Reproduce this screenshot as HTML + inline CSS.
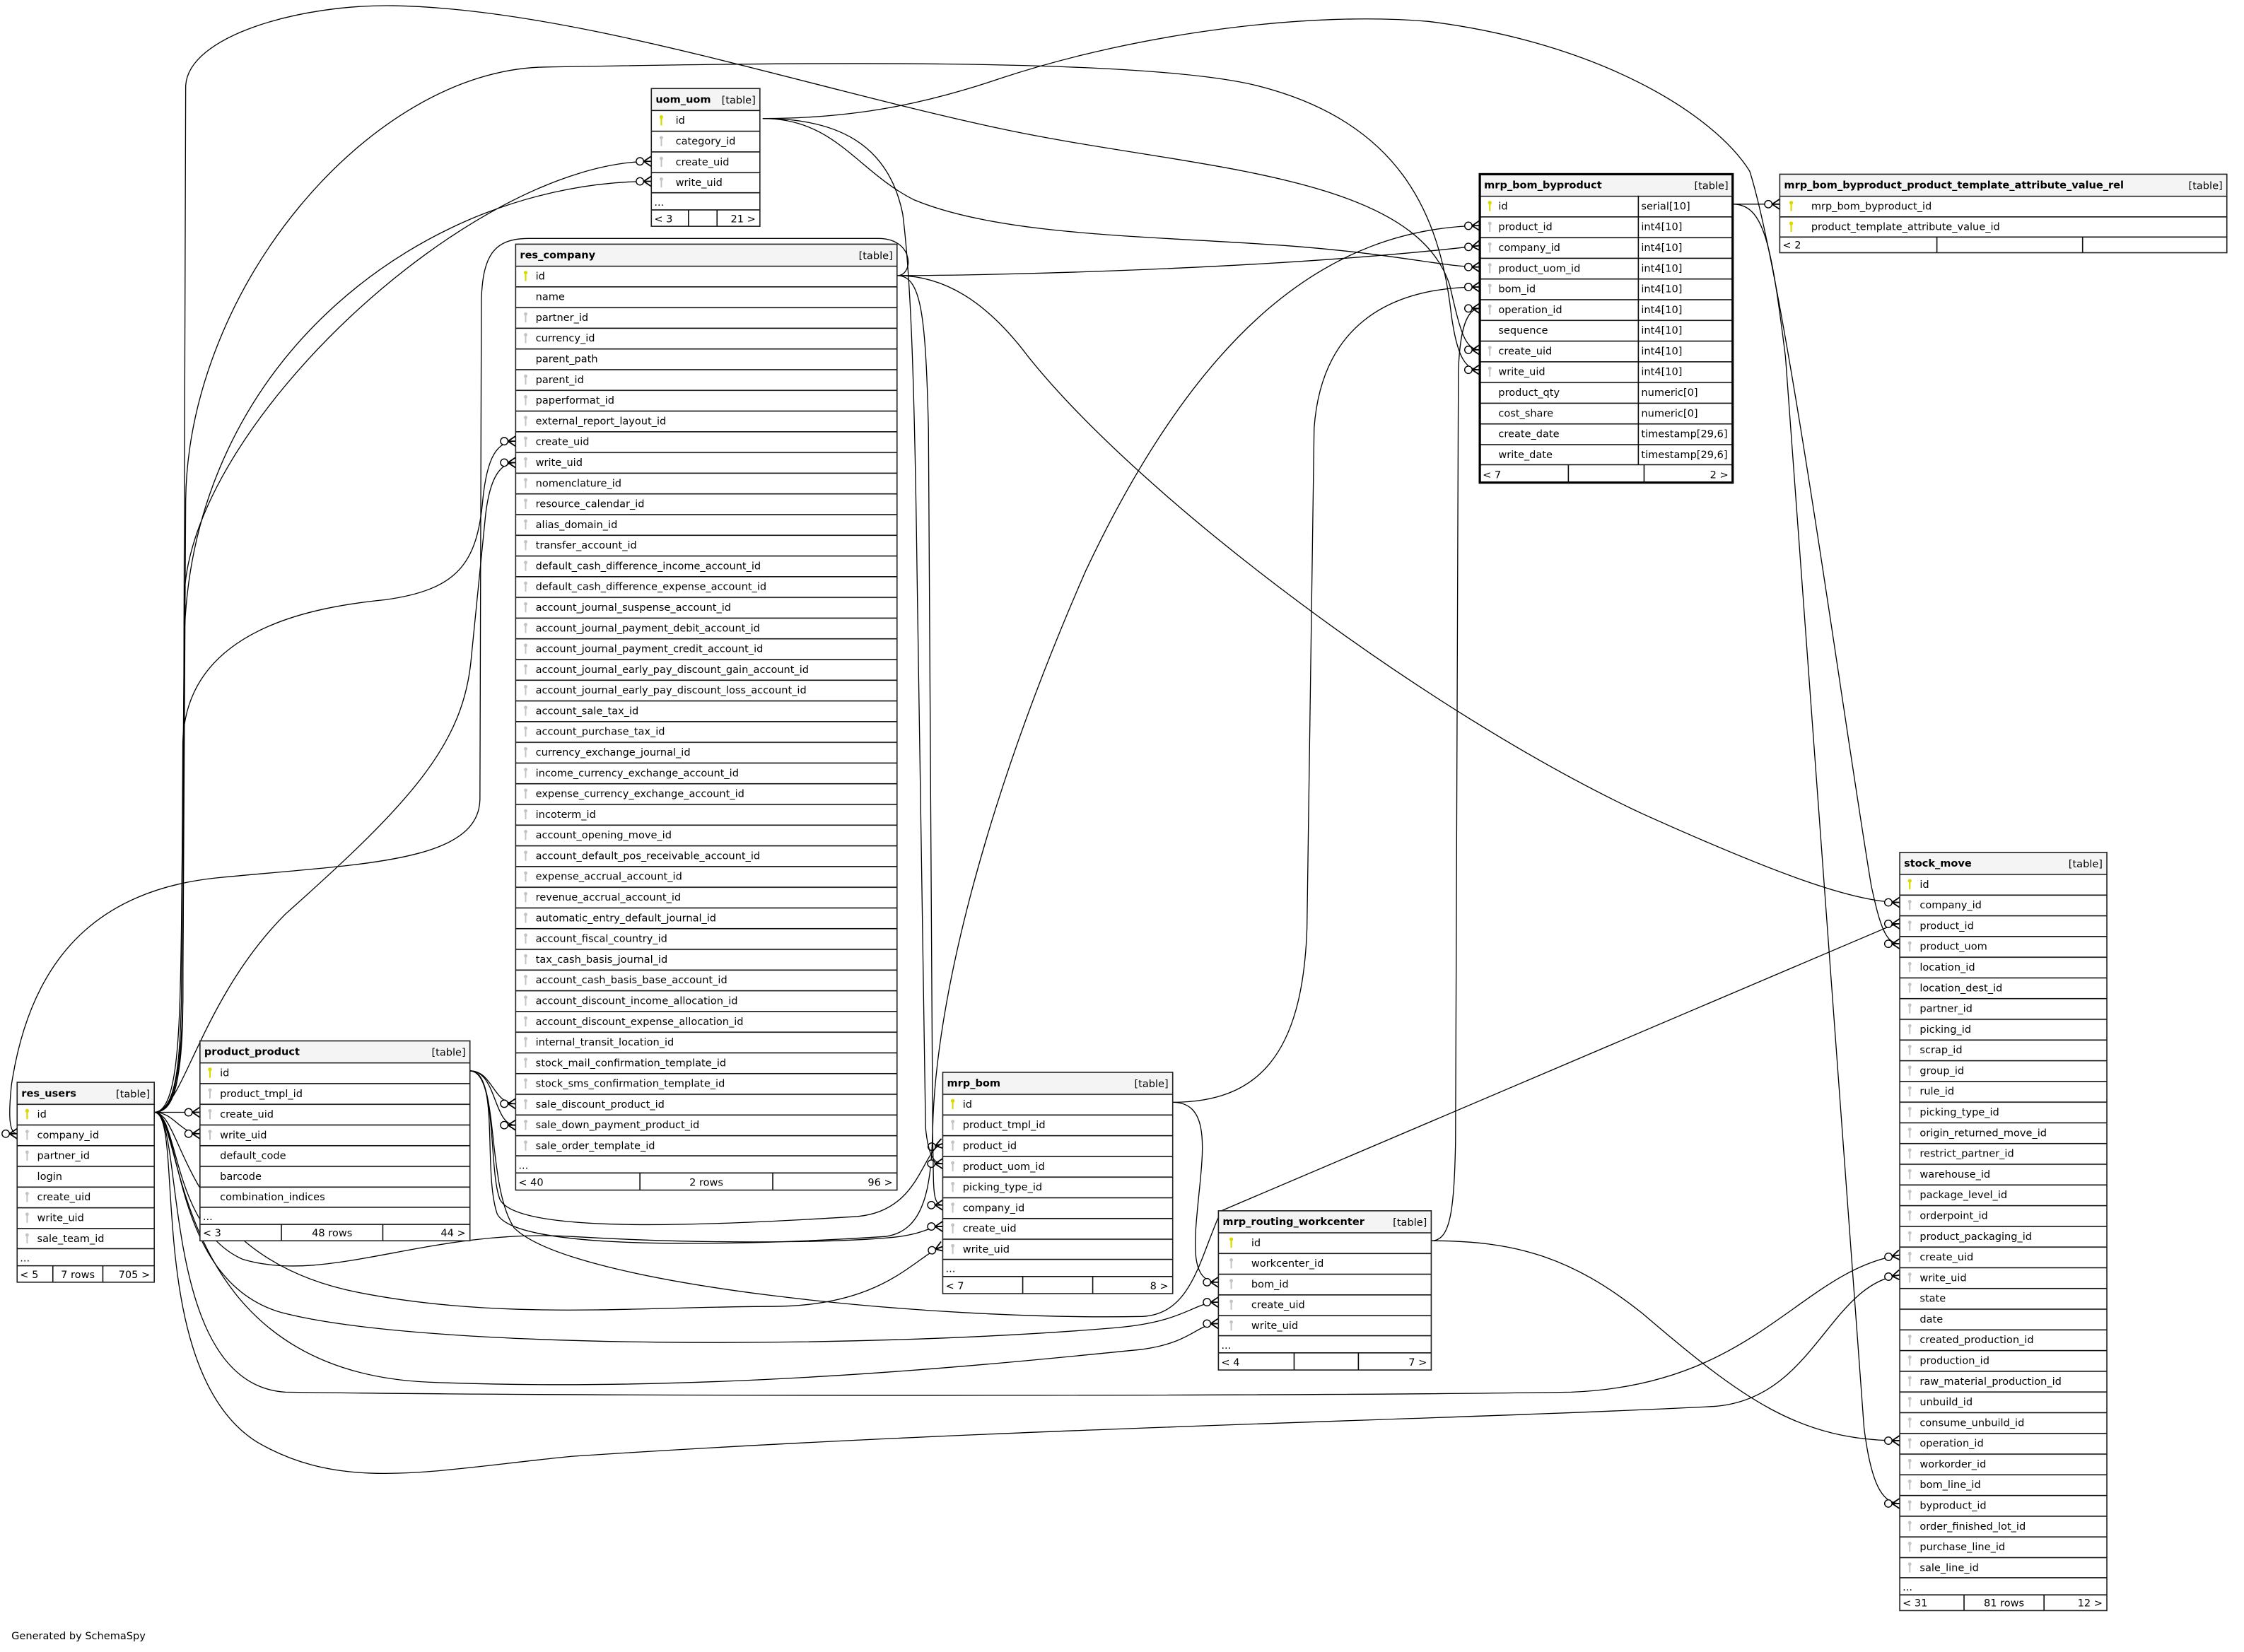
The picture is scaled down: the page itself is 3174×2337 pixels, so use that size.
<!DOCTYPE html>
<html><head><meta charset="utf-8"><style>
html,body{margin:0;padding:0;background:#fff;}
svg{display:block;}
text{font-family:"DejaVu Sans","Liberation Sans",sans-serif;font-size:7.2px;fill:#000;}
text.h{font-weight:bold;}
text.e{text-anchor:end;}
text.m{text-anchor:middle;}
.b{fill:none;stroke:#222;stroke-width:0.8;}
.bb{fill:none;stroke:#000;stroke-width:1.6;}
.ln{stroke:#111;stroke-width:0.8;}
.ed{fill:none;stroke:#000;stroke-width:0.65;marker-end:url(#cf);}
</style></head><body>
<svg width="3174" height="2337" viewBox="0 0 1571 1157" preserveAspectRatio="none" xmlns="http://www.w3.org/2000/svg">
<defs>
<pattern id="rows" patternUnits="userSpaceOnUse" x="0" y="15" width="2000" height="14.5"><rect width="2000" height="0.8" fill="#111"/></pattern>
<g id="kp"><circle cx="0" cy="-2.3" r="1.3" fill="#dada00"/><rect x="-0.55" y="-1.6" width="1.1" height="5.2" fill="#dada00"/></g>
<g id="kf"><circle cx="0" cy="-2.3" r="1.2" fill="#c4c4c4"/><rect x="-0.5" y="-1.6" width="1" height="5.2" fill="#c4c4c4"/></g>
<marker id="cf" markerUnits="userSpaceOnUse" viewBox="-12 -6 14 12" refX="0" refY="0" markerWidth="14" markerHeight="12" orient="auto">
<circle cx="-8" cy="0" r="2.6" fill="#fff" stroke="#000" stroke-width="0.7"/>
<path d="M-5.4,0L0,0M-5.4,0L0,-3.6M-5.4,0L0,3.6" stroke="#000" stroke-width="0.9" fill="none"/>
</marker>
</defs>
<rect width="1571" height="1157" fill="#fff"/>

<!-- edges -->
<path class="ed" d="M628,193 C640,193 640,167 615,167 L370,167 C345,167 338,180 337,210 L336,560 C335,605 250,605 150,615 C60,625 20,680 8,760 C6,780 6,794 12,794"/>
<path class="ed" d="M108,779 C122,779 127,760 128,700 L129,420 C130,300 330,113 456,113"/>
<path class="ed" d="M108,779 C125,779 126,720 127,650 L129,450 C132,250 300,127 456,127"/>
<path class="ed" d="M108,779 C124,779 126,740 127,700 L128,520 C130,440 220,425 270,420 C320,413 334,395 338,350 C341,320 348,309 361,309"/>
<path class="ed" d="M108,779 C128,779 140,700 200,640 C290,560 325,520 330,460 L340,360 C343,335 350,324 361,324"/>
<path class="ed" d="M108,779 L140,779"/>
<path class="ed" d="M108,779 C122,779 126,794 140,794"/>
<path class="ed" d="M108,779 C125,779 120,860 170,882 C230,900 300,860 400,866 C500,872 600,870 630,866 C650,863 650,859 660,859"/>
<path class="ed" d="M108,779 C130,779 125,880 250,905 C350,925 450,915 540,915 C620,915 640,880 660,873"/>
<path class="ed" d="M108,779 C128,779 118,900 200,920 C300,945 600,945 780,930 C830,926 835,912 853,912"/>
<path class="ed" d="M108,779 C130,779 115,960 300,968 C500,976 700,955 800,945 C835,940 838,927 853,927"/>
<path class="ed" d="M108,779 C130,779 110,970 200,975 C400,978 900,978 1100,975 C1230,970 1260,890 1330,879"/>
<path class="ed" d="M108,779 C130,779 100,960 180,1010 C240,1045 300,1030 400,1020 C700,1000 1000,995 1200,985 C1270,980 1280,900 1330,893"/>
<path class="ed" d="M108,779 C124,779 127,740 128,700 L130,60 C132,25 210,3 275,4 C400,6 560,60 700,90 C830,118 990,120 1015,200 C1022,230 1025,245 1036,245"/>
<path class="ed" d="M108,779 C125,779 128,740 128,700 L130,350 C132,200 260,50 380,47 C550,44 800,40 880,60 C980,85 1008,150 1016,220 C1020,250 1026,259 1036,259"/>
<path class="ed" d="M329,750 C345,750 345,773 361,773"/>
<path class="ed" d="M329,750 C348,750 345,788 361,788"/>
<path class="ed" d="M329,750 C348,750 342,820 350,840 C362,865 500,858 600,852 C645,848 645,805 660,801"/>
<path class="ed" d="M329,750 C350,750 338,820 348,850 C362,880 560,870 620,866 C648,862 652,830 653,790 C655,700 690,560 760,400 C840,230 930,160 1036,158"/>
<path class="ed" d="M329,750 C350,750 340,830 360,860 C400,900 650,925 800,922 C835,920 840,880 855,848 L1320,650 C1325,648 1327,647 1330,647"/>
<path class="ed" d="M534,83 C585,83 600,120 640,140 C700,165 800,165 900,172 C980,178 1010,187 1036,187"/>
<path class="ed" d="M534,83 C585,83 622,100 632,150 C637,190 640,250 642,400 L648,790 C650,810 654,815 660,815"/>
<path class="ed" d="M534,83 C600,83 650,72 700,55 C800,22 920,8 1000,15 C1120,30 1200,80 1225,120 C1250,200 1290,500 1310,620 C1316,648 1320,661 1330,661"/>
<path class="ed" d="M628,193 C645,193 648,220 650,300 L653,800 C654,830 652,844 660,844"/>
<path class="ed" d="M628,193 C700,193 900,188 1036,172"/>
<path class="ed" d="M628,193 C660,193 690,210 720,250 C800,350 1000,500 1150,570 C1250,615 1300,632 1330,632"/>
<path class="ed" d="M821,772 C845,772 843,800 840,830 C836,870 832,898 853,898"/>
<path class="ed" d="M821,772 C880,772 912,740 915,650 L920,300 C925,230 970,201 1036,201"/>
<path class="ed" d="M1002,869 C1015,869 1018,850 1019,800 L1021,260 C1022,230 1027,216 1036,216"/>
<path class="ed" d="M1002,869 C1060,869 1100,880 1150,920 C1220,980 1260,1009 1330,1009"/>
<path class="ed" d="M1213,143 L1246,143"/>
<path class="ed" d="M1213,143 C1235,143 1240,170 1250,250 L1305,1000 C1310,1040 1318,1053 1330,1053"/>

<!-- uom_uom -->
<g transform="translate(456,62)">
<rect width="76" height="96.5" fill="#fff"/>
<rect width="76" height="15" fill="#f4f4f4"/>
<rect y="15" width="76" height="58" fill="url(#rows)"/>
<path class="ln" d="M0,73H76M0,85H76M26,85V96.5M46,85V96.5"/>
<rect class="b" width="76" height="96.5"/>
<text class="h" x="3" y="10">uom_uom</text><text class="e" x="73" y="10.5">[table]</text>
<use href="#kp" x="7" y="22.25"/><text x="17" y="24.75">id</text>
<use href="#kf" x="7" y="36.75"/><text x="17" y="39.25">category_id</text>
<use href="#kf" x="7" y="51.25"/><text x="17" y="53.75">create_uid</text>
<use href="#kf" x="7" y="65.75"/><text x="17" y="68.25">write_uid</text>
<text x="2" y="82">...</text>
<text x="2" y="93.8">&lt; 3</text><text class="e" x="73" y="93.8">21 &gt;</text>
</g>

<!-- res_company -->
<g transform="translate(361,171)">
<rect width="267" height="662.5" fill="#fff"/>
<rect width="267" height="15" fill="#f4f4f4"/>
<rect y="15" width="267" height="623.5" fill="url(#rows)"/>
<path class="ln" d="M0,638.5H267M0,650.5H267M87,650.5V662.5M180,650.5V662.5"/>
<rect class="b" width="267" height="662.5"/>
<text class="h" x="3" y="10">res_company</text><text class="e" x="264" y="10.5">[table]</text>
<use href="#kp" x="7" y="22.25"/><text x="14" y="24.75">id</text>
<text x="14" y="39.25">name</text>
<use href="#kf" x="7" y="51.25"/><text x="14" y="53.75">partner_id</text>
<use href="#kf" x="7" y="65.75"/><text x="14" y="68.25">currency_id</text>
<text x="14" y="82.75">parent_path</text>
<use href="#kf" x="7" y="94.75"/><text x="14" y="97.25">parent_id</text>
<use href="#kf" x="7" y="109.25"/><text x="14" y="111.75">paperformat_id</text>
<use href="#kf" x="7" y="123.75"/><text x="14" y="126.25">external_report_layout_id</text>
<use href="#kf" x="7" y="138.25"/><text x="14" y="140.75">create_uid</text>
<use href="#kf" x="7" y="152.75"/><text x="14" y="155.25">write_uid</text>
<use href="#kf" x="7" y="167.25"/><text x="14" y="169.75">nomenclature_id</text>
<use href="#kf" x="7" y="181.75"/><text x="14" y="184.25">resource_calendar_id</text>
<use href="#kf" x="7" y="196.25"/><text x="14" y="198.75">alias_domain_id</text>
<use href="#kf" x="7" y="210.75"/><text x="14" y="213.25">transfer_account_id</text>
<use href="#kf" x="7" y="225.25"/><text x="14" y="227.75">default_cash_difference_income_account_id</text>
<use href="#kf" x="7" y="239.75"/><text x="14" y="242.25">default_cash_difference_expense_account_id</text>
<use href="#kf" x="7" y="254.25"/><text x="14" y="256.75">account_journal_suspense_account_id</text>
<use href="#kf" x="7" y="268.75"/><text x="14" y="271.25">account_journal_payment_debit_account_id</text>
<use href="#kf" x="7" y="283.25"/><text x="14" y="285.75">account_journal_payment_credit_account_id</text>
<use href="#kf" x="7" y="297.75"/><text x="14" y="300.25">account_journal_early_pay_discount_gain_account_id</text>
<use href="#kf" x="7" y="312.25"/><text x="14" y="314.75">account_journal_early_pay_discount_loss_account_id</text>
<use href="#kf" x="7" y="326.75"/><text x="14" y="329.25">account_sale_tax_id</text>
<use href="#kf" x="7" y="341.25"/><text x="14" y="343.75">account_purchase_tax_id</text>
<use href="#kf" x="7" y="355.75"/><text x="14" y="358.25">currency_exchange_journal_id</text>
<use href="#kf" x="7" y="370.25"/><text x="14" y="372.75">income_currency_exchange_account_id</text>
<use href="#kf" x="7" y="384.75"/><text x="14" y="387.25">expense_currency_exchange_account_id</text>
<use href="#kf" x="7" y="399.25"/><text x="14" y="401.75">incoterm_id</text>
<use href="#kf" x="7" y="413.75"/><text x="14" y="416.25">account_opening_move_id</text>
<use href="#kf" x="7" y="428.25"/><text x="14" y="430.75">account_default_pos_receivable_account_id</text>
<use href="#kf" x="7" y="442.75"/><text x="14" y="445.25">expense_accrual_account_id</text>
<use href="#kf" x="7" y="457.25"/><text x="14" y="459.75">revenue_accrual_account_id</text>
<use href="#kf" x="7" y="471.75"/><text x="14" y="474.25">automatic_entry_default_journal_id</text>
<use href="#kf" x="7" y="486.25"/><text x="14" y="488.75">account_fiscal_country_id</text>
<use href="#kf" x="7" y="500.75"/><text x="14" y="503.25">tax_cash_basis_journal_id</text>
<use href="#kf" x="7" y="515.25"/><text x="14" y="517.75">account_cash_basis_base_account_id</text>
<use href="#kf" x="7" y="529.75"/><text x="14" y="532.25">account_discount_income_allocation_id</text>
<use href="#kf" x="7" y="544.25"/><text x="14" y="546.75">account_discount_expense_allocation_id</text>
<use href="#kf" x="7" y="558.75"/><text x="14" y="561.25">internal_transit_location_id</text>
<use href="#kf" x="7" y="573.25"/><text x="14" y="575.75">stock_mail_confirmation_template_id</text>
<use href="#kf" x="7" y="587.75"/><text x="14" y="590.25">stock_sms_confirmation_template_id</text>
<use href="#kf" x="7" y="602.25"/><text x="14" y="604.75">sale_discount_product_id</text>
<use href="#kf" x="7" y="616.75"/><text x="14" y="619.25">sale_down_payment_product_id</text>
<use href="#kf" x="7" y="631.25"/><text x="14" y="633.75">sale_order_template_id</text>
<text x="2" y="647.5">...</text>
<text x="2" y="659.5">&lt; 40</text><text class="m" x="133.5" y="659.5">2 rows</text><text class="e" x="264" y="659.5">96 &gt;</text>
</g>

<!-- res_users -->
<g transform="translate(12,758)">
<rect width="96" height="140" fill="#fff"/>
<rect width="96" height="15" fill="#f4f4f4"/>
<rect y="15" width="96" height="101.5" fill="url(#rows)"/>
<path class="ln" d="M0,116.5H96M0,128.5H96M25,128.5V140M60,128.5V140"/>
<rect class="b" width="96" height="140"/>
<text class="h" x="3" y="10">res_users</text><text class="e" x="93" y="10.5">[table]</text>
<use href="#kp" x="7" y="22.25"/><text x="14" y="24.75">id</text>
<use href="#kf" x="7" y="36.75"/><text x="14" y="39.25">company_id</text>
<use href="#kf" x="7" y="51.25"/><text x="14" y="53.75">partner_id</text>
<text x="14" y="68.25">login</text>
<use href="#kf" x="7" y="80.25"/><text x="14" y="82.75">create_uid</text>
<use href="#kf" x="7" y="94.75"/><text x="14" y="97.25">write_uid</text>
<use href="#kf" x="7" y="109.25"/><text x="14" y="111.75">sale_team_id</text>
<text x="2" y="125.5">...</text>
<text x="2" y="137">&lt; 5</text><text class="m" x="42.5" y="137">7 rows</text><text class="e" x="93" y="137">705 &gt;</text>
</g>

<!-- product_product -->
<g transform="translate(140,729)">
<rect width="189" height="140" fill="#fff"/>
<rect width="189" height="15" fill="#f4f4f4"/>
<rect y="15" width="189" height="101.5" fill="url(#rows)"/>
<path class="ln" d="M0,116.5H189M0,128.5H189M57,128.5V140M128,128.5V140"/>
<rect class="b" width="189" height="140"/>
<text class="h" x="3" y="10">product_product</text><text class="e" x="186" y="10.5">[table]</text>
<use href="#kp" x="7" y="22.25"/><text x="14" y="24.75">id</text>
<use href="#kf" x="7" y="36.75"/><text x="14" y="39.25">product_tmpl_id</text>
<use href="#kf" x="7" y="51.25"/><text x="14" y="53.75">create_uid</text>
<use href="#kf" x="7" y="65.75"/><text x="14" y="68.25">write_uid</text>
<text x="14" y="82.75">default_code</text>
<text x="14" y="97.25">barcode</text>
<text x="14" y="111.75">combination_indices</text>
<text x="2" y="125.5">...</text>
<text x="2" y="137">&lt; 3</text><text class="m" x="92.5" y="137">48 rows</text><text class="e" x="186" y="137">44 &gt;</text>
</g>

<!-- mrp_bom -->
<g transform="translate(660,751)">
<rect width="161" height="155" fill="#fff"/>
<rect width="161" height="15" fill="#f4f4f4"/>
<rect y="15" width="161" height="116" fill="url(#rows)"/>
<path class="ln" d="M0,131H161M0,143H161M56,143V155M105,143V155"/>
<rect class="b" width="161" height="155"/>
<text class="h" x="3" y="10">mrp_bom</text><text class="e" x="158" y="10.5">[table]</text>
<use href="#kp" x="7" y="22.25"/><text x="14" y="24.75">id</text>
<use href="#kf" x="7" y="36.75"/><text x="14" y="39.25">product_tmpl_id</text>
<use href="#kf" x="7" y="51.25"/><text x="14" y="53.75">product_id</text>
<use href="#kf" x="7" y="65.75"/><text x="14" y="68.25">product_uom_id</text>
<use href="#kf" x="7" y="80.25"/><text x="14" y="82.75">picking_type_id</text>
<use href="#kf" x="7" y="94.75"/><text x="14" y="97.25">company_id</text>
<use href="#kf" x="7" y="109.25"/><text x="14" y="111.75">create_uid</text>
<use href="#kf" x="7" y="123.75"/><text x="14" y="126.25">write_uid</text>
<text x="2" y="140">...</text>
<text x="2" y="152">&lt; 7</text><text class="e" x="158" y="152">8 &gt;</text>
</g>

<!-- mrp_routing_workcenter -->
<g transform="translate(853,848)">
<rect width="149" height="111.5" fill="#fff"/>
<rect width="149" height="15" fill="#f4f4f4"/>
<rect y="15" width="149" height="72.5" fill="url(#rows)"/>
<path class="ln" d="M0,87.5H149M0,99.5H149M53,99.5V111.5M98,99.5V111.5"/>
<rect class="b" width="149" height="111.5"/>
<text class="h" x="3" y="10">mrp_routing_workcenter</text><text class="e" x="146" y="10.5">[table]</text>
<use href="#kp" x="9" y="22.25"/><text x="23" y="24.75">id</text>
<use href="#kf" x="9" y="36.75"/><text x="23" y="39.25">workcenter_id</text>
<use href="#kf" x="9" y="51.25"/><text x="23" y="53.75">bom_id</text>
<use href="#kf" x="9" y="65.75"/><text x="23" y="68.25">create_uid</text>
<use href="#kf" x="9" y="80.25"/><text x="23" y="82.75">write_uid</text>
<text x="2" y="96.5">...</text>
<text x="2" y="108.5">&lt; 4</text><text class="e" x="146" y="108.5">7 &gt;</text>
</g>

<!-- mrp_bom_byproduct -->
<g transform="translate(1036,122)">
<rect width="177" height="216" fill="#fff"/>
<rect width="177" height="15" fill="#f4f4f4"/>
<rect y="15" width="177" height="188.5" fill="url(#rows)"/>
<path class="ln" d="M0,203.5H177M111,15V203.5M62,203.5V216M115,203.5V216"/>
<rect class="bb" width="177" height="216"/>
<text class="h" x="3" y="10">mrp_bom_byproduct</text><text class="e" x="174" y="10.5">[table]</text>
<use href="#kp" x="7" y="22.25"/><text x="13" y="24.75">id</text><text x="113" y="24.75">serial[10]</text>
<use href="#kf" x="7" y="36.75"/><text x="13" y="39.25">product_id</text><text x="113" y="39.25">int4[10]</text>
<use href="#kf" x="7" y="51.25"/><text x="13" y="53.75">company_id</text><text x="113" y="53.75">int4[10]</text>
<use href="#kf" x="7" y="65.75"/><text x="13" y="68.25">product_uom_id</text><text x="113" y="68.25">int4[10]</text>
<use href="#kf" x="7" y="80.25"/><text x="13" y="82.75">bom_id</text><text x="113" y="82.75">int4[10]</text>
<use href="#kf" x="7" y="94.75"/><text x="13" y="97.25">operation_id</text><text x="113" y="97.25">int4[10]</text>
<text x="13" y="111.75">sequence</text><text x="113" y="111.75">int4[10]</text>
<use href="#kf" x="7" y="123.75"/><text x="13" y="126.25">create_uid</text><text x="113" y="126.25">int4[10]</text>
<use href="#kf" x="7" y="138.25"/><text x="13" y="140.75">write_uid</text><text x="113" y="140.75">int4[10]</text>
<text x="13" y="155.25">product_qty</text><text x="113" y="155.25">numeric[0]</text>
<text x="13" y="169.75">cost_share</text><text x="113" y="169.75">numeric[0]</text>
<text x="13" y="184.25">create_date</text><text x="113" y="184.25">timestamp[29,6]</text>
<text x="13" y="198.75">write_date</text><text x="113" y="198.75">timestamp[29,6]</text>
<text x="2" y="213">&lt; 7</text><text class="e" x="174" y="213">2 &gt;</text>
</g>

<!-- rel -->
<g transform="translate(1246,122)">
<rect width="313" height="55" fill="#fff"/>
<rect width="313" height="15" fill="#f4f4f4"/>
<rect y="15" width="313" height="29" fill="url(#rows)"/>
<path class="ln" d="M0,44H313M110,44V55M212,44V55"/>
<rect class="b" width="313" height="55"/>
<text class="h" x="3" y="10">mrp_bom_byproduct_product_template_attribute_value_rel</text><text class="e" x="310" y="10.5">[table]</text>
<use href="#kp" x="8" y="22.25"/><text x="22" y="24.75">mrp_bom_byproduct_id</text>
<use href="#kp" x="8" y="36.75"/><text x="22" y="39.25">product_template_attribute_value_id</text>
<text x="2" y="52">&lt; 2</text>
</g>

<!-- stock_move -->
<g transform="translate(1330,597)">
<rect width="145" height="531" fill="#fff"/>
<rect width="145" height="15" fill="#f4f4f4"/>
<rect y="15" width="145" height="493" fill="url(#rows)"/>
<path class="ln" d="M0,508H145M0,520H145M45,520V531M101,520V531"/>
<rect class="b" width="145" height="531"/>
<text class="h" x="3" y="10">stock_move</text><text class="e" x="142" y="10.5">[table]</text>
<use href="#kp" x="7" y="22.25"/><text x="14" y="24.75">id</text>
<use href="#kf" x="7" y="36.75"/><text x="14" y="39.25">company_id</text>
<use href="#kf" x="7" y="51.25"/><text x="14" y="53.75">product_id</text>
<use href="#kf" x="7" y="65.75"/><text x="14" y="68.25">product_uom</text>
<use href="#kf" x="7" y="80.25"/><text x="14" y="82.75">location_id</text>
<use href="#kf" x="7" y="94.75"/><text x="14" y="97.25">location_dest_id</text>
<use href="#kf" x="7" y="109.25"/><text x="14" y="111.75">partner_id</text>
<use href="#kf" x="7" y="123.75"/><text x="14" y="126.25">picking_id</text>
<use href="#kf" x="7" y="138.25"/><text x="14" y="140.75">scrap_id</text>
<use href="#kf" x="7" y="152.75"/><text x="14" y="155.25">group_id</text>
<use href="#kf" x="7" y="167.25"/><text x="14" y="169.75">rule_id</text>
<use href="#kf" x="7" y="181.75"/><text x="14" y="184.25">picking_type_id</text>
<use href="#kf" x="7" y="196.25"/><text x="14" y="198.75">origin_returned_move_id</text>
<use href="#kf" x="7" y="210.75"/><text x="14" y="213.25">restrict_partner_id</text>
<use href="#kf" x="7" y="225.25"/><text x="14" y="227.75">warehouse_id</text>
<use href="#kf" x="7" y="239.75"/><text x="14" y="242.25">package_level_id</text>
<use href="#kf" x="7" y="254.25"/><text x="14" y="256.75">orderpoint_id</text>
<use href="#kf" x="7" y="268.75"/><text x="14" y="271.25">product_packaging_id</text>
<use href="#kf" x="7" y="283.25"/><text x="14" y="285.75">create_uid</text>
<use href="#kf" x="7" y="297.75"/><text x="14" y="300.25">write_uid</text>
<text x="14" y="314.75">state</text>
<text x="14" y="329.25">date</text>
<use href="#kf" x="7" y="341.25"/><text x="14" y="343.75">created_production_id</text>
<use href="#kf" x="7" y="355.75"/><text x="14" y="358.25">production_id</text>
<use href="#kf" x="7" y="370.25"/><text x="14" y="372.75">raw_material_production_id</text>
<use href="#kf" x="7" y="384.75"/><text x="14" y="387.25">unbuild_id</text>
<use href="#kf" x="7" y="399.25"/><text x="14" y="401.75">consume_unbuild_id</text>
<use href="#kf" x="7" y="413.75"/><text x="14" y="416.25">operation_id</text>
<use href="#kf" x="7" y="428.25"/><text x="14" y="430.75">workorder_id</text>
<use href="#kf" x="7" y="442.75"/><text x="14" y="445.25">bom_line_id</text>
<use href="#kf" x="7" y="457.25"/><text x="14" y="459.75">byproduct_id</text>
<use href="#kf" x="7" y="471.75"/><text x="14" y="474.25">order_finished_lot_id</text>
<use href="#kf" x="7" y="486.25"/><text x="14" y="488.75">purchase_line_id</text>
<use href="#kf" x="7" y="500.75"/><text x="14" y="503.25">sale_line_id</text>
<text x="2" y="517">...</text>
<text x="2" y="528">&lt; 31</text><text class="m" x="73" y="528">81 rows</text><text class="e" x="142" y="528">12 &gt;</text>
</g>

<text x="8" y="1148">Generated by SchemaSpy</text>
</svg>
</body></html>
